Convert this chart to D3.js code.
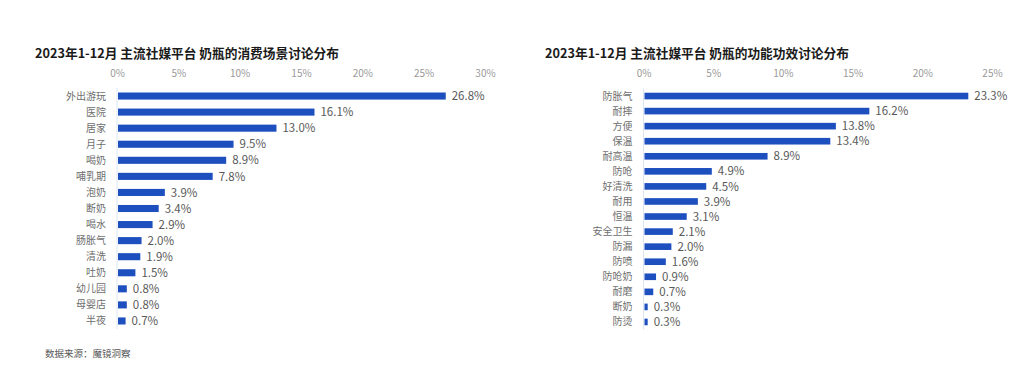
<!DOCTYPE html>
<html>
<head>
<meta charset="utf-8">
<script src="https://cdn.jsdelivr.net/npm/d3@7"></script>
<style>
  body { margin: 0; background: #fff; }
  svg { font-family: "Noto Sans CJK SC", "Noto Sans", sans-serif; }
</style>
</head>
<body>
<div id="chart"></div>
<script>
// left chart: consumption scenes
let sceneNames = ["外出游玩", "医院", "居家", "月子", "喝奶", "哺乳期", "泡奶", "断奶", "喝水", "肠胀气", "清洗", "吐奶", "幼儿园", "母婴店", "半夜"];
let sceneValues = [26.8, 16.1, 13.0, 9.5, 8.9, 7.8, 3.9, 3.4, 2.9, 2.0, 1.9, 1.5, 0.8, 0.8, 0.7];
let sceneTicks = [0, 5, 10, 15, 20, 25, 30];

// right chart: functions
let funcNames = ["防胀气", "耐摔", "方便", "保温", "耐高温", "防呛", "好清洗", "耐用", "恒温", "安全卫生", "防漏", "防喷", "防呛奶", "耐磨", "断奶", "防烫"];
let funcValues = [23.3, 16.2, 13.8, 13.4, 8.9, 4.9, 4.5, 3.9, 3.1, 2.1, 2.0, 1.6, 0.9, 0.7, 0.3, 0.3];
let funcTicks = [0, 5, 10, 15, 20, 25];

let width = 1024, height = 371;

let svg = d3.select("#chart")
    .append("svg")
    .attr("width", width)
    .attr("height", height);

function drawPanel(opts) {
    let g = svg.append("g");

    g.append("text")
        .attr("x", opts.titleX)
        .attr("y", 58)
        .attr("font-size", 12.7)
        .attr("font-weight", "bold")
        .attr("fill", "#1a1a1a")
        .text(opts.title);

    let x = d3.scaleLinear()
        .domain([0, d3.max(opts.ticks)])
        .range([opts.x0, opts.x1]);

    let y = d3.scaleBand()
        .domain(opts.names)
        .range([opts.y0, opts.y1])
        .paddingInner(0.56)
        .paddingOuter(0.28);

    let axis = g.append("g")
        .attr("transform", "translate(0,80)")
        .call(d3.axisTop(x).tickValues(opts.ticks).tickFormat(d => d + "%").tickSize(0));
    axis.select(".domain").remove();
    axis.selectAll("text")
        .attr("font-size", 10)
        .attr("fill", "#999")
        .attr("font-family", "\"Noto Sans CJK SC\", sans-serif");

    // baseline
    g.append("line")
        .attr("x1", x(0)).attr("x2", x(0))
        .attr("y1", opts.y0).attr("y2", opts.y1)
        .attr("stroke", "#dbe5f3")
        .attr("stroke-width", 1);

    let rows = g.selectAll(".row")
        .data(opts.names)
        .enter().append("g")
        .attr("class", "row");

    rows.append("rect")
        .attr("x", x(0) + 1)
        .attr("y", d => y(d))
        .attr("height", y.bandwidth())
        .attr("width", (d, i) => x(opts.values[i]) - x(0) - 1)
        .attr("fill", "#1d4fbf");

    rows.append("text")
        .attr("x", x(0) - 11)
        .attr("y", d => y(d) + y.bandwidth() / 2)
        .attr("dy", "0.35em")
        .attr("text-anchor", "end")
        .attr("font-size", 10)
        .attr("fill", "#6e6e6e")
        .text(d => d);

    rows.append("text")
        .attr("x", (d, i) => x(opts.values[i]) + 6)
        .attr("y", d => y(d) + y.bandwidth() / 2)
        .attr("dy", "0.36em")
        .attr("font-size", 11.5)
        .attr("fill", "#595959")
        .text((d, i) => opts.values[i].toFixed(1) + "%");
}

drawPanel({
    title: "2023年1-12月 主流社媒平台 奶瓶的消费场景讨论分布",
    titleX: 35,
    names: sceneNames,
    values: sceneValues,
    ticks: sceneTicks,
    x0: 117, x1: 485,
    y0: 88, y1: 329
});

drawPanel({
    title: "2023年1-12月 主流社媒平台 奶瓶的功能功效讨论分布",
    titleX: 545,
    names: funcNames,
    values: funcValues,
    ticks: funcTicks,
    x0: 643.5, x1: 992,
    y0: 88.5, y1: 329.5
});

svg.append("text")
    .attr("x", 45)
    .attr("y", 357)
    .attr("font-size", 9.5)
    .attr("fill", "#595959")
    .text("数据来源：魔镜洞察");
</script>
</body>
</html>
